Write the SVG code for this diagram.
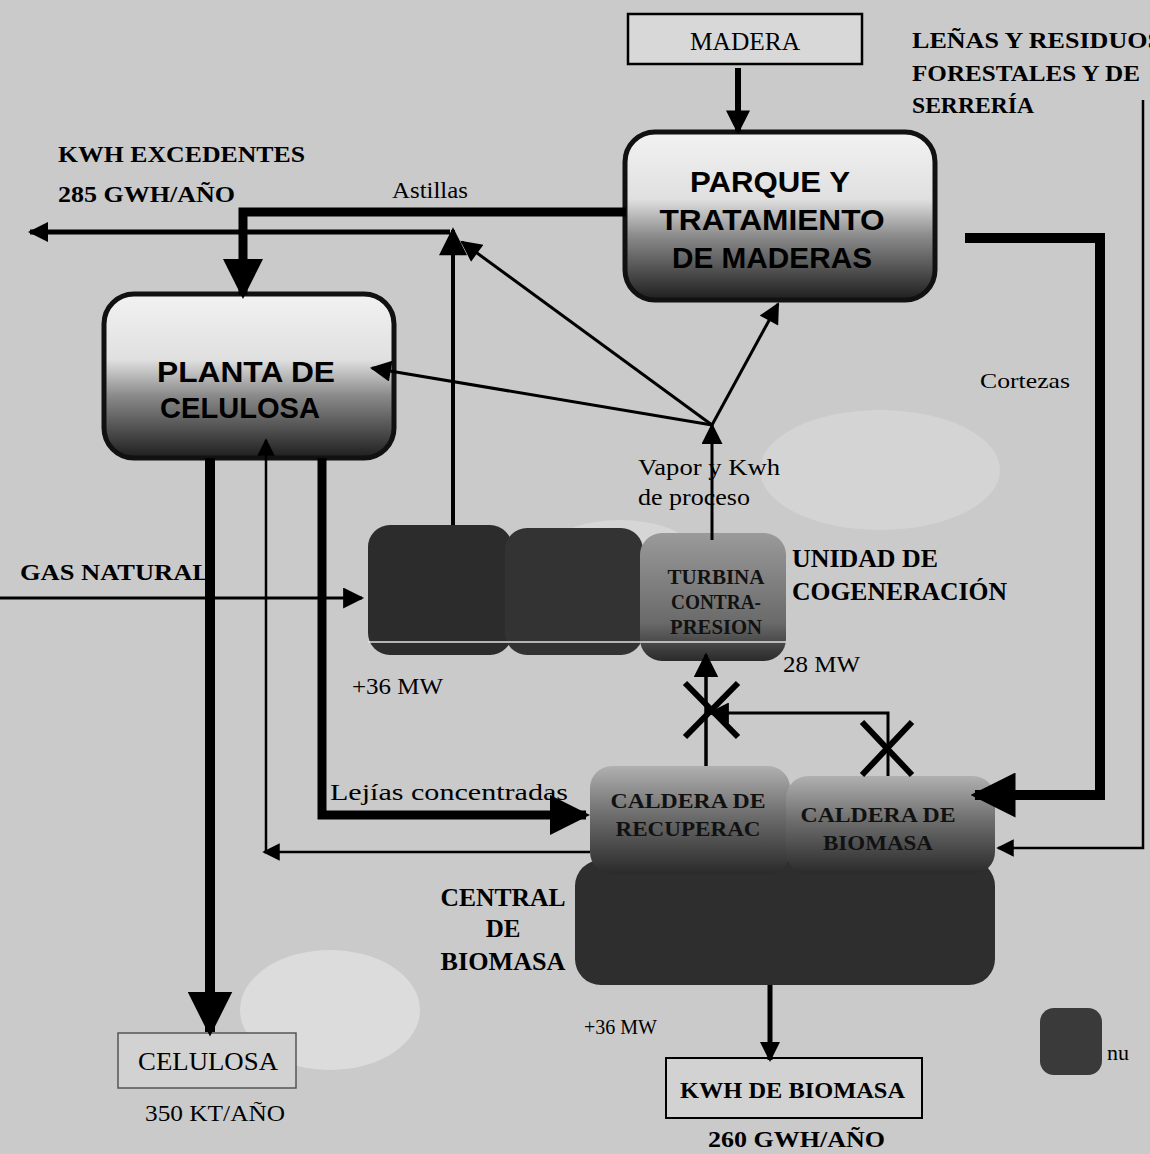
<svg xmlns="http://www.w3.org/2000/svg" width="1150" height="1154" viewBox="0 0 1150 1154">
<defs>
  <linearGradient id="gLight" x1="0" y1="0" x2="0" y2="1">
    <stop offset="0" stop-color="#f2f2f2"/>
    <stop offset="0.4" stop-color="#e0e0e0"/>
    <stop offset="0.62" stop-color="#8a8a8a"/>
    <stop offset="1" stop-color="#1e1e1e"/>
  </linearGradient>
  <linearGradient id="gMid" x1="0" y1="0" x2="0" y2="1">
    <stop offset="0" stop-color="#b0b0b0"/>
    <stop offset="0.45" stop-color="#6e6e6e"/>
    <stop offset="1" stop-color="#2a2a2a"/>
  </linearGradient>
  <linearGradient id="gTurb" x1="0" y1="0" x2="0" y2="1">
    <stop offset="0" stop-color="#9a9a9a"/>
    <stop offset="0.7" stop-color="#6a6a6a"/>
    <stop offset="1" stop-color="#2a2a2a"/>
  </linearGradient>
  <marker id="ah" viewBox="0 0 10 10" refX="9" refY="5" markerWidth="4" markerHeight="4" orient="auto" markerUnits="strokeWidth">
    <path d="M0,0 L10,5 L0,10 z" fill="#000"/>
  </marker>
  <marker id="ahThin" viewBox="0 0 10 10" refX="9" refY="5" markerWidth="8" markerHeight="7" orient="auto" markerUnits="strokeWidth">
    <path d="M0,0 L10,5 L0,10 z" fill="#000"/>
  </marker>
  <marker id="ahThick" viewBox="0 0 10 10" refX="9" refY="5" markerWidth="4.5" markerHeight="4.5" orient="auto" markerUnits="strokeWidth">
    <path d="M0,0 L10,5 L0,10 z" fill="#000"/>
  </marker>
</defs>
<style>
  .serif { font-family: "Liberation Serif", "Times New Roman", serif; fill: #000; }
  .bold { font-weight: bold; }
  .title { font-family: "Liberation Sans", Arial, sans-serif; font-weight: bold; font-size: 30px; fill: #000; text-anchor: middle; }
  .inner { font-family: "Liberation Serif", "Times New Roman", serif; font-weight: bold; font-size: 22px; fill: #111; text-anchor: middle; }
  .wire { fill: none; stroke: #000; stroke-linejoin: miter; }
</style>

<rect x="0" y="0" width="1150" height="1154" fill="#cacaca"/>
<ellipse cx="330" cy="1010" rx="90" ry="60" fill="#dcdcdc"/>
<ellipse cx="620" cy="560" rx="80" ry="40" fill="#d6d6d6"/>
<ellipse cx="880" cy="470" rx="120" ry="60" fill="#d4d4d4"/>

<!-- nodes -->
<g id="madera">
  <rect x="628" y="14" width="234" height="50" fill="#d8d8d8" stroke="#000" stroke-width="2.5"/>
  <text class="serif" font-size="26" x="690" y="50" textLength="110" lengthAdjust="spacingAndGlyphs">MADERA</text>
</g>

<g id="lenas">
  <text class="serif bold" font-size="24" x="912" y="48" textLength="250" lengthAdjust="spacingAndGlyphs">LEÑAS Y RESIDUOS</text>
  <text class="serif bold" font-size="24" x="912" y="81" textLength="228" lengthAdjust="spacingAndGlyphs">FORESTALES Y DE</text>
  <text class="serif bold" font-size="24" x="912" y="113" textLength="122" lengthAdjust="spacingAndGlyphs">SERRERÍA</text>
</g>

<g id="parque">
  <rect x="625" y="132" width="310" height="168" rx="30" fill="url(#gLight)" stroke="#111" stroke-width="5"/>
  <text class="title" x="770" y="192" textLength="160" lengthAdjust="spacingAndGlyphs">PARQUE Y</text>
  <text class="title" x="772" y="230" textLength="225" lengthAdjust="spacingAndGlyphs">TRATAMIENTO</text>
  <text class="title" x="772" y="268" textLength="200" lengthAdjust="spacingAndGlyphs">DE MADERAS</text>
</g>

<g id="planta">
  <rect x="104" y="294" width="290" height="164" rx="30" fill="url(#gLight)" stroke="#111" stroke-width="5"/>
  <text class="title" x="246" y="382" textLength="178" lengthAdjust="spacingAndGlyphs">PLANTA DE</text>
  <text class="title" x="240" y="418" textLength="160" lengthAdjust="spacingAndGlyphs">CELULOSA</text>
</g>

<g id="kwh-excedentes">
  <text class="serif bold" font-size="24" x="58" y="162" textLength="247" lengthAdjust="spacingAndGlyphs">KWH EXCEDENTES</text>
  <text class="serif bold" font-size="24" x="58" y="202" textLength="177" lengthAdjust="spacingAndGlyphs">285 GWH/AÑO</text>
</g>

<g id="labels">
  <text class="serif" font-size="23" x="392" y="198" textLength="76" lengthAdjust="spacingAndGlyphs">Astillas</text>
  <text class="serif" font-size="24" x="638" y="475" textLength="142" lengthAdjust="spacingAndGlyphs">Vapor y Kwh</text>
  <text class="serif" font-size="24" x="638" y="505" textLength="112" lengthAdjust="spacingAndGlyphs">de proceso</text>
  <text class="serif" font-size="22" x="980" y="388" textLength="90" lengthAdjust="spacingAndGlyphs">Cortezas</text>
  <text class="serif bold" font-size="24" x="20" y="580" textLength="190" lengthAdjust="spacingAndGlyphs">GAS NATURAL</text>
  <text class="serif" font-size="23" x="352" y="694" textLength="91" lengthAdjust="spacingAndGlyphs">+36 MW</text>
  <text class="serif" font-size="23" x="783" y="672" textLength="77" lengthAdjust="spacingAndGlyphs">28 MW</text>
  <text class="serif" font-size="24" x="330" y="800" textLength="238" lengthAdjust="spacingAndGlyphs">Lejías concentradas</text>
  <text class="serif" font-size="20" x="584" y="1034" textLength="73" lengthAdjust="spacingAndGlyphs">+36 MW</text>
</g>

<g id="cogeneracion">
  <rect x="368" y="525" width="144" height="130" rx="22" fill="#2c2c2c"/>
  <rect x="505" y="528" width="138" height="127" rx="22" fill="#333"/>
  <rect x="640" y="533" width="146" height="128" rx="22" fill="url(#gTurb)"/>
  <line x1="368" y1="642" x2="786" y2="642" stroke="#e0e0e0" stroke-width="1.5"/>
  <text class="inner" font-size="18" x="716" y="584" textLength="97" lengthAdjust="spacingAndGlyphs">TURBINA</text>
  <text class="inner" font-size="18" x="716" y="609" textLength="90" lengthAdjust="spacingAndGlyphs">CONTRA-</text>
  <text class="inner" font-size="18" x="716" y="634" textLength="92" lengthAdjust="spacingAndGlyphs">PRESION</text>
  <text class="serif bold" font-size="25" x="792" y="567" textLength="146" lengthAdjust="spacingAndGlyphs">UNIDAD DE</text>
  <text class="serif bold" font-size="25" x="792" y="600" textLength="215" lengthAdjust="spacingAndGlyphs">COGENERACIÓN</text>
</g>

<g id="central-biomasa">
  <rect x="575" y="860" width="420" height="125" rx="26" fill="#2e2e2e"/>
  <rect x="590" y="766" width="200" height="108" rx="22" fill="url(#gMid)"/>
  <rect x="786" y="776" width="209" height="98" rx="22" fill="url(#gMid)"/>
  <text class="inner" x="688" y="808" textLength="155" lengthAdjust="spacingAndGlyphs">CALDERA DE</text>
  <text class="inner" x="688" y="836" textLength="145" lengthAdjust="spacingAndGlyphs">RECUPERAC</text>
  <text class="inner" x="878" y="822" textLength="155" lengthAdjust="spacingAndGlyphs">CALDERA DE</text>
  <text class="inner" x="878" y="850" textLength="110" lengthAdjust="spacingAndGlyphs">BIOMASA</text>
  <text class="serif bold" font-size="25" x="503" y="906" text-anchor="middle" textLength="125" lengthAdjust="spacingAndGlyphs">CENTRAL</text>
  <text class="serif bold" font-size="25" x="503" y="937" text-anchor="middle">DE</text>
  <text class="serif bold" font-size="25" x="503" y="970" text-anchor="middle" textLength="125" lengthAdjust="spacingAndGlyphs">BIOMASA</text>
</g>

<g id="celulosa">
  <rect x="118" y="1033" width="178" height="55" fill="#d2d2d2" stroke="#555" stroke-width="1.5"/>
  <text class="serif" font-size="25" x="138" y="1070" textLength="140" lengthAdjust="spacingAndGlyphs">CELULOSA</text>
  <text class="serif" font-size="24" x="145" y="1121" textLength="140" lengthAdjust="spacingAndGlyphs">350 KT/AÑO</text>
</g>

<g id="kwh-biomasa">
  <rect x="666" y="1058" width="256" height="60" fill="#d2d2d2" stroke="#000" stroke-width="2"/>
  <text class="serif bold" font-size="24" x="680" y="1098" textLength="225" lengthAdjust="spacingAndGlyphs">KWH DE BIOMASA</text>
  <text class="serif bold" font-size="24" x="708" y="1147" textLength="177" lengthAdjust="spacingAndGlyphs">260 GWH/AÑO</text>
</g>

<g id="legend">
  <rect x="1040" y="1008" width="62" height="67" rx="14" fill="#3a3a3a"/>
  <text class="serif" font-size="22" x="1107" y="1060">nu</text>
</g>

<!-- connectors -->
<g id="connectors">
  <line class="wire" x1="738" y1="68" x2="738" y2="132" stroke-width="6" marker-end="url(#ah)"/>
  <polyline class="wire" points="626,212 243,212 243,295" stroke-width="9" marker-end="url(#ahThick)"/>
  <line class="wire" x1="453" y1="525" x2="453" y2="230" stroke-width="4" marker-end="url(#ahThin)"/>
  <line class="wire" x1="450" y1="232" x2="30" y2="232" stroke-width="5" marker-end="url(#ah)"/>
  <line class="wire" x1="712" y1="540" x2="712" y2="425" stroke-width="3" marker-end="url(#ahThin)"/>
  <line class="wire" x1="712" y1="425" x2="462" y2="242" stroke-width="3" marker-end="url(#ahThin)"/>
  <line class="wire" x1="712" y1="425" x2="372" y2="368" stroke-width="3" marker-end="url(#ahThin)"/>
  <line class="wire" x1="712" y1="425" x2="778" y2="304" stroke-width="3" marker-end="url(#ahThin)"/>
  <line class="wire" x1="0" y1="598" x2="362" y2="598" stroke-width="3" marker-end="url(#ahThin)"/>
  <polyline class="wire" points="322,458 322,815 586,815" stroke-width="9" marker-end="url(#ahThick)"/>
  <line class="wire" x1="590" y1="852" x2="264" y2="852" stroke-width="2.5" marker-end="url(#ahThin)"/>
  <line class="wire" x1="266" y1="852" x2="266" y2="440" stroke-width="2.5" marker-end="url(#ahThin)"/>
  <line class="wire" x1="210" y1="458" x2="210" y2="1032" stroke-width="10" marker-end="url(#ahThick)"/>
  <polyline class="wire" points="965,238 1100,238 1100,795 975,795" stroke-width="10" marker-end="url(#ahThick)"/>
  <polyline class="wire" points="1143,100 1143,848 998,848" stroke-width="2.5" marker-end="url(#ahThin)"/>
  <line class="wire" x1="706" y1="766" x2="706" y2="655" stroke-width="3.5" marker-end="url(#ahThin)"/>
  <line class="wire" x1="685" y1="683" x2="738" y2="737" stroke-width="6"/>
  <line class="wire" x1="738" y1="683" x2="685" y2="737" stroke-width="6"/>
  <polyline class="wire" points="888,776 888,713 710,713" stroke-width="3" marker-end="url(#ahThin)"/>
  <line class="wire" x1="862" y1="722" x2="912" y2="775" stroke-width="6"/>
  <line class="wire" x1="912" y1="722" x2="862" y2="775" stroke-width="6"/>
  <line class="wire" x1="770" y1="985" x2="770" y2="1060" stroke-width="5" marker-end="url(#ah)"/>
</g>
</svg>
